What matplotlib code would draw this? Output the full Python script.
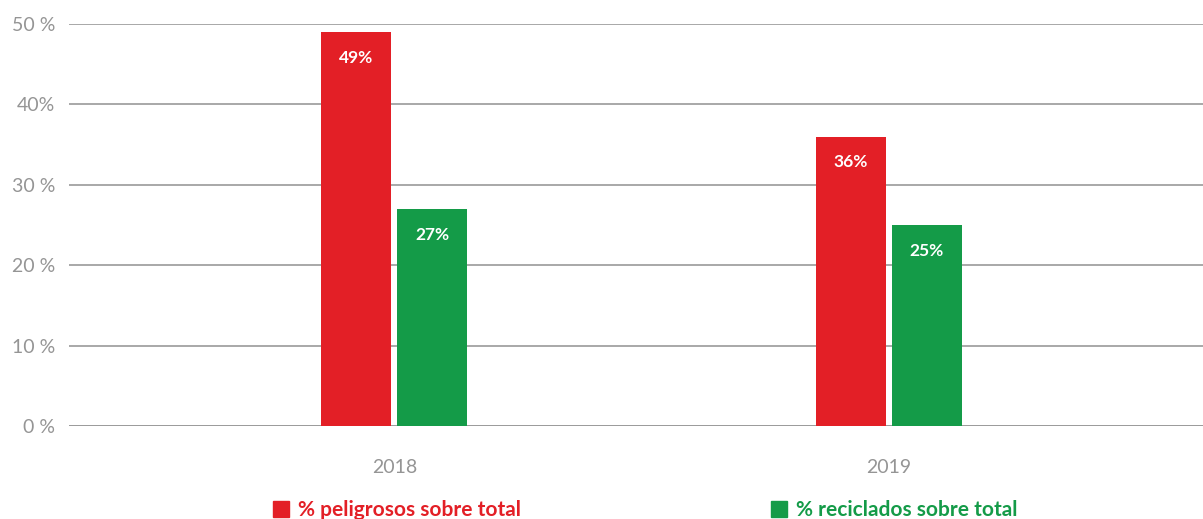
import matplotlib.pyplot as plt
from matplotlib.patches import Patch
import numpy as np

years = ['2018', '2019']
peligrosos = [49, 36]
reciclados = [27, 25]
series_names = ['% peligrosos sobre total', '% reciclados sobre total']
ytick_vals = [0, 10, 20, 30, 40, 50]
ytick_labels = ['0 %', '10 %', '20 %', '30 %', '40%', '50 %']

RED = '#e31f26'
GREEN = '#149b48'
GRID = '#9a9a9a'
TICK = '#959595'

plt.rcParams['font.family'] = ['Lato', 'DejaVu Sans']

fig = plt.figure(figsize=(12.03, 5.19), dpi=100)
ax = fig.add_axes([69 / 1203, 1 - 426 / 519, 1134 / 1203, 402 / 519])

x = np.arange(len(years))
w = 0.1416
off = 0.0769
b1 = ax.bar(x - off, peligrosos, w, color=RED, zorder=3)
b2 = ax.bar(x + off, reciclados, w, color=GREEN, zorder=3)

for bars, vals in ((b1, peligrosos), (b2, reciclados)):
    for b, v in zip(bars, vals):
        ax.text(b.get_x() + b.get_width() / 2, v - 3.2, f'{v}%',
                ha='center', va='center', color='white',
                fontsize=12.5, fontweight='bold', zorder=4)

ax.set_xlim(-0.658, 1.636)
ax.set_ylim(0, 50)
ax.set_yticks(ytick_vals)
ax.set_yticklabels(ytick_labels)
ax.set_xticks(x)
ax.set_xticklabels(years)
ax.grid(axis='y', color=GRID, linewidth=1.2, zorder=0)
ax.tick_params(axis='both', length=0, colors=TICK, labelsize=14)
ax.tick_params(axis='x', pad=24)
ax.tick_params(axis='y', pad=10)
for s in ax.spines.values():
    s.set_visible(False)
ax.axhline(0, color=GRID, linewidth=1.2, zorder=2)

# legend entries sit far apart under each year group
for name, col, xpos in ((series_names[0], RED, 261), (series_names[1], GREEN, 759)):
    leg = fig.legend(handles=[Patch(color=col)], labels=[name],
                     loc='center left', bbox_to_anchor=(xpos / 1203 - 0.006, 1 - 510 / 519),
                     frameon=False, handlelength=0.8, handleheight=0.8,
                     handletextpad=0.4, prop={'size': 15, 'weight': 'bold'})
    for t in leg.get_texts():
        t.set_color(col)

fig.savefig('out.png', dpi=100)
